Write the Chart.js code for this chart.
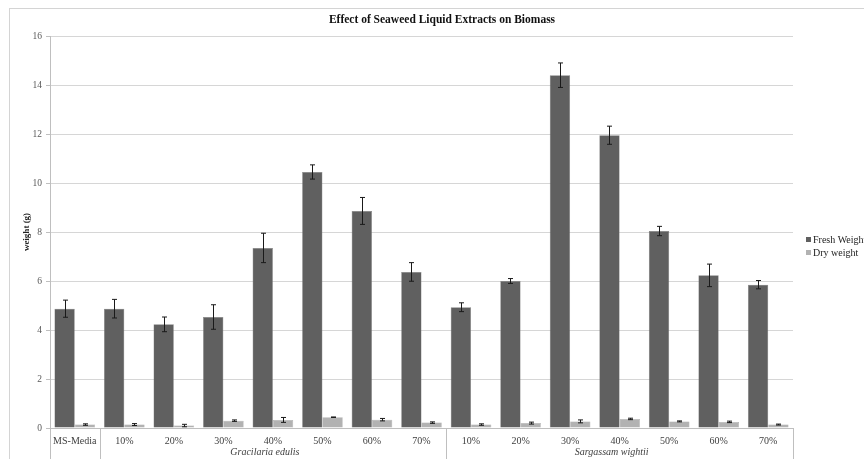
<!DOCTYPE html>
<html>
<head>
<meta charset="utf-8">
<script src="https://cdn.jsdelivr.net/npm/chart.js@4"></script>
<style>
  body { margin: 0; background: #fff; }
  #wrap { position: relative; width: 864px; height: 459px; }
</style>
</head>
<body>
<div id="wrap"><canvas id="biomassChart" width="864" height="459"></canvas></div>
<script>
const categories = ['MS-Media', '10%', '20%', '30%', '40%', '50%', '60%', '70%',
    '10%', '20%', '30%', '40%', '50%', '60%', '70%']
const groups = [
    { name: 'Gracilaria edulis', from: 1, to: 7 },
    { name: 'Sargassam wightii', from: 8, to: 14 }
]
const freshWeight = [4.87, 4.87, 4.23, 4.53, 7.35, 10.45, 8.86, 6.37, 4.93, 6.0, 14.4, 11.95, 8.04, 6.23, 5.85]
const freshErr = [0.35, 0.38, 0.3, 0.5, 0.6, 0.29, 0.55, 0.38, 0.18, 0.1, 0.5, 0.37, 0.19, 0.46, 0.17]
const dryWeight = [0.14, 0.14, 0.1, 0.3, 0.33, 0.44, 0.34, 0.22, 0.14, 0.2, 0.27, 0.37, 0.27, 0.25, 0.14]
const dryErr = [0.03, 0.04, 0.05, 0.03, 0.1, 0.01, 0.05, 0.03, 0.03, 0.04, 0.06, 0.03, 0.02, 0.03, 0.02]
const yTicks = [0, 2, 4, 6, 8, 10, 12, 14, 16]

const serif = "'Liberation Serif', 'DejaVu Serif', serif"

// error bars, frame, title, legend and the two-level axis
const extrasPlugin = {
    id: 'extras',
    beforeDraw(chart) {
        const c = chart.ctx
        c.save()
        c.strokeStyle = '#d4d4d4'
        c.lineWidth = 1
        c.strokeRect(9.5, 8.5, 900, 500)
        c.restore()
    },
    afterDatasetsDraw(chart) {
        const c = chart.ctx
        const y = chart.scales.y
        const errs = [freshErr, dryErr]
        c.save()
        c.strokeStyle = '#1a1a1a'
        c.lineWidth = 1
        chart.data.datasets.forEach((ds, di) => {
            const meta = chart.getDatasetMeta(di)
            meta.data.forEach((bar, i) => {
                const v = ds.data[i]
                const e = errs[di][i]
                const x = Math.round(bar.x) + 0.5
                const top = y.getPixelForValue(v + e)
                const bot = y.getPixelForValue(v - e)
                c.beginPath()
                c.moveTo(x, top); c.lineTo(x, bot)
                c.moveTo(x - 2.5, top); c.lineTo(x + 2.5, top)
                c.moveTo(x - 2.5, bot); c.lineTo(x + 2.5, bot)
                c.stroke()
            })
        })
        c.restore()
    },
    afterDraw(chart) {
        const c = chart.ctx
        const x = chart.scales.x
        const area = chart.chartArea
        c.save()
        // title
        c.fillStyle = '#111'
        c.font = 'bold 11.5px ' + serif
        c.textAlign = 'center'
        c.textBaseline = 'middle'
        c.fillText('Effect of Seaweed Liquid Extracts on Biomass', 442, 20)

        // separators of the category axis
        const step = (x.getPixelForValue(1) - x.getPixelForValue(0))
        const edges = [0, 1, 8, 15]
        c.strokeStyle = '#bfbfbf'
        c.lineWidth = 1
        edges.forEach(k => {
            const px = Math.round(x.getPixelForValue(0) - step / 2 + k * step) + 0.5
            c.beginPath()
            c.moveTo(px, area.bottom)
            c.lineTo(px, 459)
            c.stroke()
        })

        // group labels
        c.fillStyle = '#404040'
        c.font = 'italic 10px ' + serif
        groups.forEach(g => {
            const mid = (x.getPixelForValue(g.from) + x.getPixelForValue(g.to)) / 2
            c.fillText(g.name, mid - 8, 452)
        })

        // legend
        c.font = '10px ' + serif
        c.textAlign = 'left'
        chart.data.datasets.forEach((ds, i) => {
            const ly = 240 + i * 13
            c.fillStyle = ds.backgroundColor
            c.fillRect(806, ly - 3, 5, 5)
            c.fillStyle = '#222'
            c.fillText(ds.label, 813, ly)
        })
        c.restore()
    }
}

const ctx = document.getElementById('biomassChart').getContext('2d')
const biomassChart = new Chart(ctx, {
    type: 'bar',
    data: {
        labels: categories,
        datasets: [
            {
                label: 'Fresh Weight',
                data: freshWeight,
                backgroundColor: '#606060',
                borderColor: '#7a7a7a',
                borderWidth: 0.5
            },
            {
                label: 'Dry weight',
                data: dryWeight,
                backgroundColor: '#b2b2b2',
                borderColor: '#a5a5a5',
                borderWidth: 0.5
            }
        ]
    },
    options: {
        responsive: false,
        animation: false,
        devicePixelRatio: 1,
        layout: {
            padding: { top: 36, right: 71, left: 0, bottom: 0 }
        },
        datasets: {
            bar: { categoryPercentage: 0.82, barPercentage: 1.0 }
        },
        plugins: {
            legend: { display: false },
            title: { display: false },
            tooltip: { enabled: false }
        },
        scales: {
            x: {
                grid: { display: false },
                border: { display: true, color: '#bfbfbf' },
                ticks: {
                    color: '#404040',
                    padding: -1,
                    maxRotation: 0,
                    autoSkip: false,
                    font: { family: serif, size: 10 }
                },
                afterFit(scale) { scale.height = 31 }
            },
            y: {
                min: 0,
                max: 16,
                afterBuildTicks(scale) {
                    scale.ticks = yTicks.map(v => ({ value: v }))
                },
                grid: { color: '#d6d6d6', tickLength: 4, tickColor: '#bfbfbf' },
                border: { display: true, color: '#bfbfbf' },
                ticks: {
                    color: '#595959',
                    padding: 4,
                    font: { family: serif, size: 9.5 }
                },
                title: {
                    display: true,
                    text: 'weight (g)',
                    color: '#222',
                    padding: { top: 21, bottom: 0 },
                    font: { family: serif, size: 9, weight: 'bold' }
                },
                afterFit(scale) { scale.width = 50 }
            }
        }
    },
    plugins: [extrasPlugin]
})
</script>
</body>
</html>
